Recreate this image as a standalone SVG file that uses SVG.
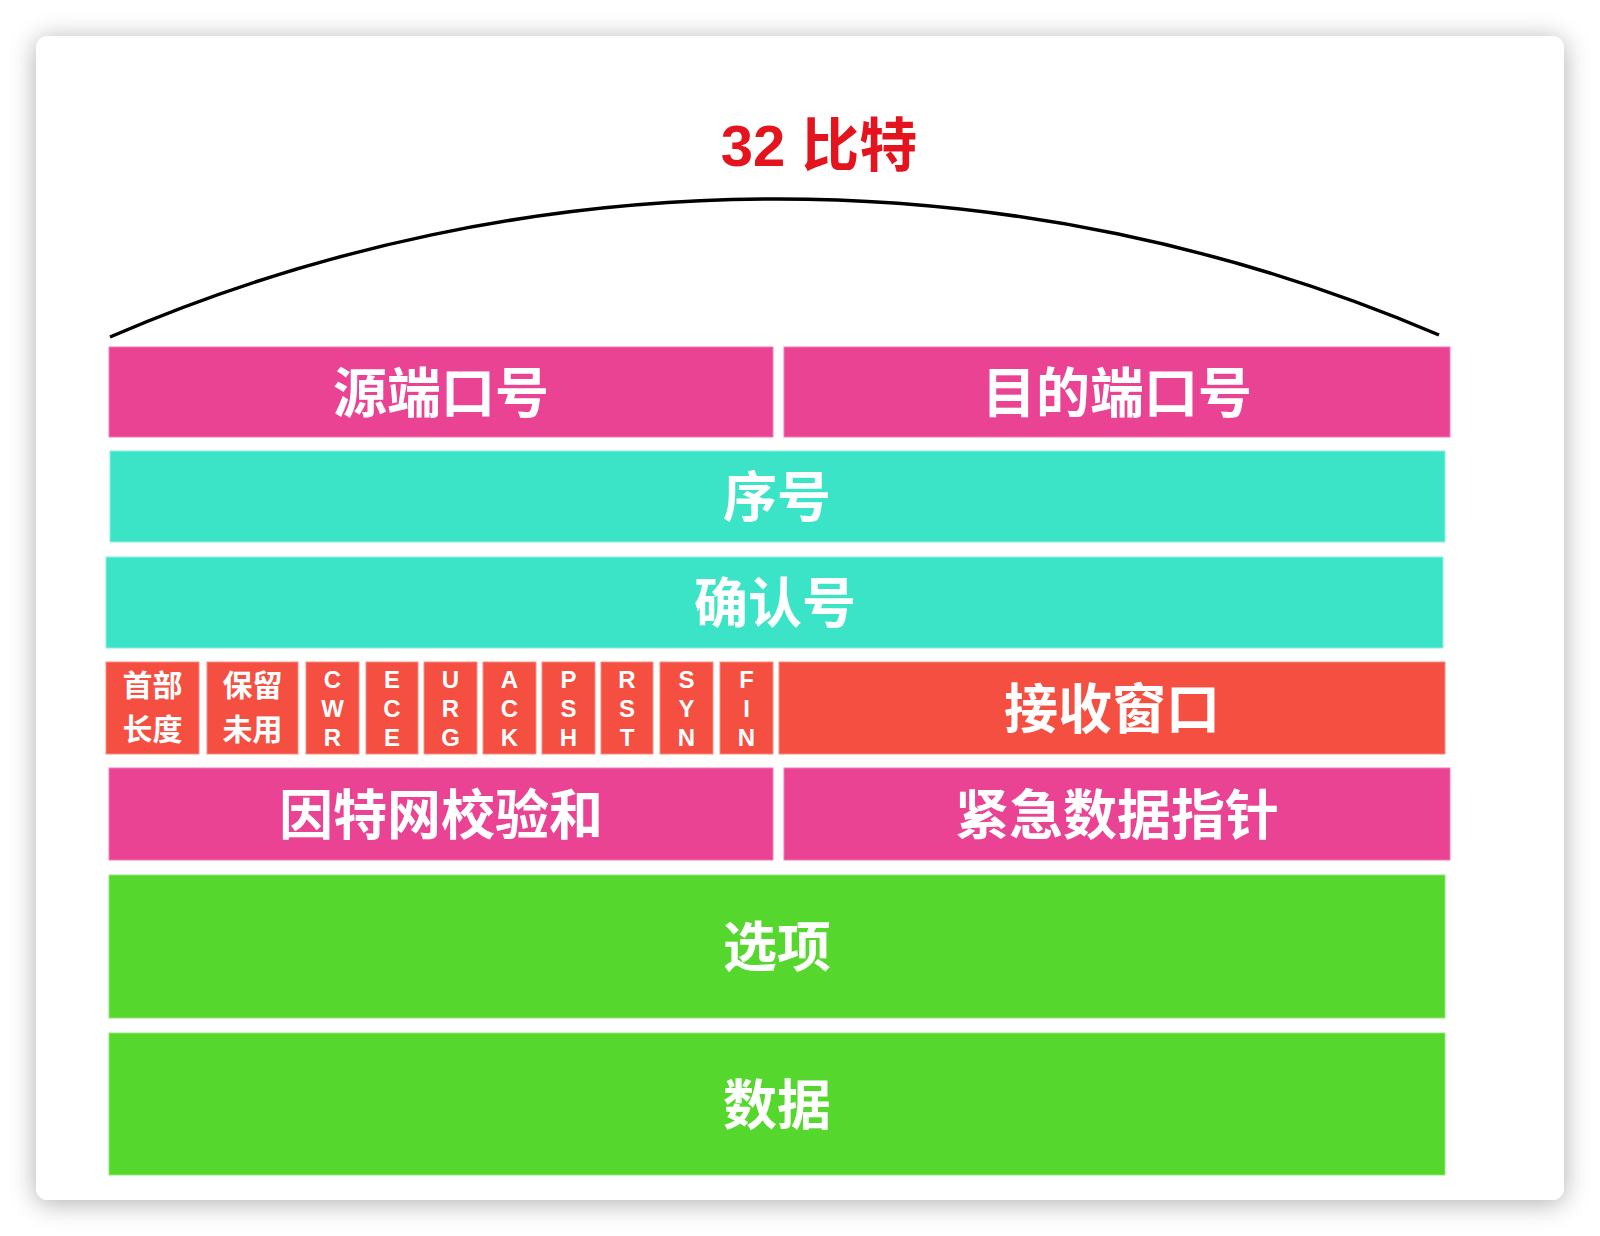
<svg xmlns="http://www.w3.org/2000/svg" width="1600" height="1236" viewBox="0 0 1600 1236">
  <defs>
    <filter id="shadow" x="-10%" y="-10%" width="120%" height="120%">
      <feDropShadow dx="0" dy="3" stdDeviation="13" flood-color="#000" flood-opacity="0.32"/>
    </filter>
  </defs>
  <style>
    .pink { fill: #EA4394; stroke: #F27DB6; stroke-width: 1; }
    .teal { fill: #3CE4C7; stroke: #8AF0DD; stroke-width: 1; }
    .red { fill: #F54F42; stroke: #F98C82; stroke-width: 1; }
    .green { fill: #55D72D; stroke: #92E775; stroke-width: 1; }
    .lbl { fill: #FFFFFF; font-family: "Noto Sans CJK SC", "Liberation Sans", sans-serif; font-weight: 700; font-size: 54px; text-anchor: middle; }
    .flagc { fill: #FFFFFF; font-family: "Noto Sans CJK SC", "Liberation Sans", sans-serif; font-weight: 700; font-size: 30px; text-anchor: middle; }
    .flagl { fill: #FFFFFF; font-family: "Liberation Sans", Arial, sans-serif; font-weight: 700; font-size: 24px; text-anchor: middle; }
    .title { fill: #E3141E; font-family: "Liberation Sans", "Noto Sans CJK SC", sans-serif; font-weight: 700; font-size: 58px; text-anchor: middle; }
  </style>

  <rect x="0" y="0" width="1600" height="1236" fill="#FFFFFF"/>
  <rect id="card" x="36" y="36" width="1528" height="1164" rx="12" ry="12" fill="#FFFFFF" filter="url(#shadow)"/>

  <g id="title">
    <text class="title" x="819" y="166">32 比特</text>
  </g>

  <g id="connectors">
    <path d="M110,337 A1680,1680 0 0 1 1439,335" fill="none" stroke="#000" stroke-width="3.5"/>
  </g>

  <g id="src-port"><rect class="pink" x="109" y="347" width="664" height="90"/><text class="lbl" x="441" y="412.5">源端口号</text></g>
  <g id="dst-port"><rect class="pink" x="784" y="347" width="666" height="90"/><text class="lbl" x="1117" y="412.5">目的端口号</text></g>

  <g id="seq"><rect class="teal" x="110" y="451" width="1335" height="91"/><text class="lbl" x="777" y="517">序号</text></g>
  <g id="ack-num"><rect class="teal" x="106" y="557" width="1337" height="91"/><text class="lbl" x="775" y="623">确认号</text></g>

  <g id="hdr-len"><rect class="red" x="106" y="662" width="93" height="92"/><text class="flagc" x="152.5" y="695.5">首部</text><text class="flagc" x="152.5" y="739.5">长度</text></g>
  <g id="reserved"><rect class="red" x="207" y="662" width="91" height="92"/><text class="flagc" x="252.5" y="695.5">保留</text><text class="flagc" x="252.5" y="739.5">未用</text></g>
  <g id="cwr"><rect class="red" x="306" y="662" width="53" height="92"/><text class="flagl" x="332.5" y="688">C</text><text class="flagl" x="332.5" y="717">W</text><text class="flagl" x="332.5" y="746">R</text></g>
  <g id="ece"><rect class="red" x="366" y="662" width="52" height="92"/><text class="flagl" x="392" y="688">E</text><text class="flagl" x="392" y="717">C</text><text class="flagl" x="392" y="746">E</text></g>
  <g id="urg"><rect class="red" x="424" y="662" width="53" height="92"/><text class="flagl" x="450.5" y="688">U</text><text class="flagl" x="450.5" y="717">R</text><text class="flagl" x="450.5" y="746">G</text></g>
  <g id="ack"><rect class="red" x="483" y="662" width="53" height="92"/><text class="flagl" x="509.5" y="688">A</text><text class="flagl" x="509.5" y="717">C</text><text class="flagl" x="509.5" y="746">K</text></g>
  <g id="psh"><rect class="red" x="542" y="662" width="53" height="92"/><text class="flagl" x="568.5" y="688">P</text><text class="flagl" x="568.5" y="717">S</text><text class="flagl" x="568.5" y="746">H</text></g>
  <g id="rst"><rect class="red" x="601" y="662" width="52" height="92"/><text class="flagl" x="627" y="688">R</text><text class="flagl" x="627" y="717">S</text><text class="flagl" x="627" y="746">T</text></g>
  <g id="syn"><rect class="red" x="660" y="662" width="53" height="92"/><text class="flagl" x="686.5" y="688">S</text><text class="flagl" x="686.5" y="717">Y</text><text class="flagl" x="686.5" y="746">N</text></g>
  <g id="fin"><rect class="red" x="720" y="662" width="53" height="92"/><text class="flagl" x="746.5" y="688">F</text><text class="flagl" x="746.5" y="717">I</text><text class="flagl" x="746.5" y="746">N</text></g>
  <g id="window"><rect class="red" x="779" y="662" width="666" height="92"/><text class="lbl" x="1112" y="728.5">接收窗口</text></g>

  <g id="checksum"><rect class="pink" x="109" y="768" width="664" height="92"/><text class="lbl" x="441" y="834.5">因特网校验和</text></g>
  <g id="urgent-ptr"><rect class="pink" x="784" y="768" width="666" height="92"/><text class="lbl" x="1117" y="834.5">紧急数据指针</text></g>

  <g id="options"><rect class="green" x="109" y="875" width="1336" height="143"/><text class="lbl" x="777" y="967">选项</text></g>
  <g id="data"><rect class="green" x="109" y="1033" width="1336" height="142"/><text class="lbl" x="777" y="1124.5">数据</text></g>
</svg>
